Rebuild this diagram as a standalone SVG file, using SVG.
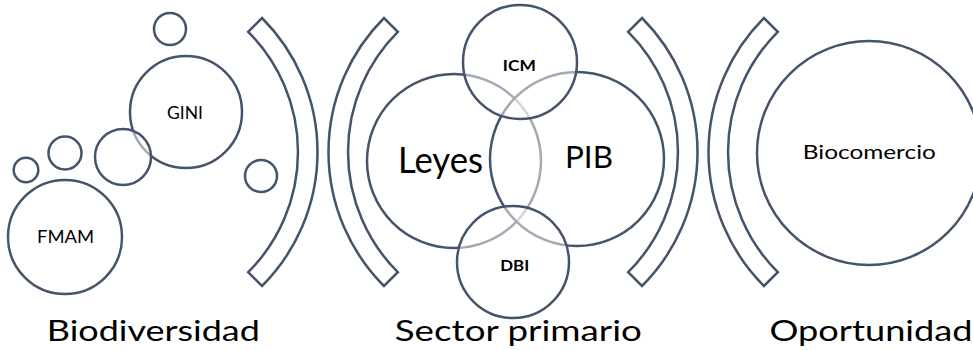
<svg xmlns="http://www.w3.org/2000/svg" width="973" height="350" viewBox="0 0 973 350">
<style>
.c{fill:#ffffff;fill-opacity:0.5;stroke:#44546a;stroke-width:2.5}
.b{fill:#ffffff;stroke:#44546a;stroke-width:2.5;stroke-linejoin:miter}
.t{font-family:Lato,"Open Sans","Liberation Sans",sans-serif;fill:#000000;text-anchor:middle}
.bold{font-weight:bold}
</style>
<rect width="973" height="350" fill="#ffffff"/>
<g id="brackets">
<path id="br1" class="b" d="M 262 18 A 189.5 189.5 0 0 1 262 286 L 248.2 272.2 A 170 170 0 0 0 248.2 31.8 Z"/>
<path id="br2" class="b" d="M 384 18 A 189.5 189.5 0 0 0 384 286 L 397.8 272.2 A 170 170 0 0 1 397.8 31.8 Z"/>
<path id="br3" class="b" d="M 642 18 A 189.5 189.5 0 0 1 642 286 L 628.2 272.2 A 170 170 0 0 0 628.2 31.8 Z"/>
<path id="br4" class="b" d="M 764 18 A 189.5 189.5 0 0 0 764 286 L 777.8 272.2 A 170 170 0 0 1 777.8 31.8 Z"/>
</g>
<g id="connectors"></g>
<g id="small-top"><circle class="c" cx="170" cy="29" r="16"/></g>
<g id="gini"><circle class="c" cx="186" cy="112" r="56"/><text class="t" x="185" y="119.3" font-size="16.8" textLength="36" lengthAdjust="spacingAndGlyphs">GINI</text></g>
<g id="medium"><circle class="c" cx="123" cy="157" r="28"/></g>
<g id="small-a"><circle class="c" cx="65" cy="153" r="16.5"/></g>
<g id="small-b"><circle class="c" cx="26" cy="170" r="12.3"/></g>
<g id="fmam"><circle class="c" cx="65" cy="237" r="57"/><text class="t" x="65.5" y="242.7" font-size="17.7" textLength="57" lengthAdjust="spacingAndGlyphs">FMAM</text></g>
<g id="small-right"><circle class="c" cx="261" cy="176" r="16"/></g>
<g id="leyes"><circle class="c" cx="454" cy="161" r="87"/></g>
<g id="pib"><circle class="c" cx="577" cy="159" r="87"/></g>
<g id="icm"><circle class="c" cx="520" cy="62" r="57"/></g>
<g id="dbi"><circle class="c" cx="513" cy="262" r="56"/></g>
<g id="labels-center">
<text class="t" x="440.5" y="172.7" font-size="37" textLength="85" lengthAdjust="spacingAndGlyphs">Leyes</text>
<text class="t" x="589" y="167.7" font-size="30.7" textLength="48" lengthAdjust="spacingAndGlyphs">PIB</text>
<text class="t bold" x="519.3" y="70.7" font-size="15" textLength="33" lengthAdjust="spacingAndGlyphs">ICM</text>
<text class="t bold" x="514.7" y="270.7" font-size="15" textLength="29" lengthAdjust="spacingAndGlyphs">DBI</text>
</g>
<g id="biocomercio"><circle class="c" cx="869" cy="153" r="112"/><text class="t" x="869.3" y="159.3" font-size="20" textLength="133" lengthAdjust="spacingAndGlyphs">Biocomercio</text></g>
<g id="titles">
<text class="t" x="153.3" y="341" font-size="29.5" textLength="213" lengthAdjust="spacingAndGlyphs">Biodiversidad</text>
<text class="t" x="518.3" y="341" font-size="29.5" textLength="247" lengthAdjust="spacingAndGlyphs">Sector primario</text>
<text class="t" x="871" y="341" font-size="29.5" textLength="203" lengthAdjust="spacingAndGlyphs">Oportunidad</text>
</g>
</svg>
